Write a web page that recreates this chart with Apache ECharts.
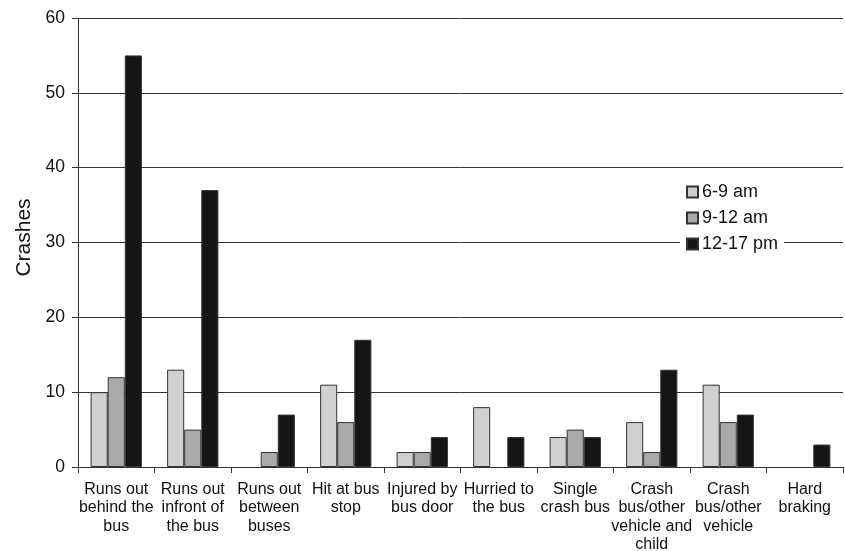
<!DOCTYPE html>
<html><head><meta charset="utf-8">
<script src="https://cdn.jsdelivr.net/npm/echarts@6/dist/echarts.min.js"></script>
<style>html,body{margin:0;padding:0;background:#fff}#c{width:845px;height:551px}</style>
</head><body><div id="c"></div>
<script>
const categories = ["Runs out\nbehind the\nbus","Runs out\ninfront of\nthe bus","Runs out\nbetween\nbuses","Hit at bus\nstop","Injured by\nbus door","Hurried to\nthe bus","Single\ncrash bus","Crash\nbus/other\nvehicle and\nchild","Crash\nbus/other\nvehicle","Hard\nbraking"];
const seriesNames = ["6-9 am","9-12 am","12-17 pm"];
const am69 = [10,13,0,11,2,8,4,6,11,0];
const am912 = [12,5,2,6,2,0,5,2,6,0];
const pm1217 = [55,37,7,17,4,4,4,13,7,3];
const colors = ["#d0d0d0","#a9aaa9","#151515"];
const font = "Liberation Sans, Arial, sans-serif";
const chart = echarts.init(document.getElementById('c'));
const datas = [am69, am912, pm1217];
chart.setOption({
  animation:false,
  textStyle:{fontFamily:font},
  grid:{left:78,right:2,top:18,bottom:84,outerBoundsMode:'none',containLabel:false},
  legend:{orient:'vertical',left:680,top:181,itemWidth:11,itemHeight:11,itemGap:8,icon:'rect',
    backgroundColor:'#fff',padding:[2,6,2,6],
    textStyle:{fontSize:18,color:'#111',fontFamily:font,padding:[0,0,0,-1]},
    data:seriesNames},
  xAxis:{type:'category',data:categories,
    axisLine:{lineStyle:{color:'#333',width:1}},
    axisTick:{show:true,length:6,lineStyle:{color:'#333'}},
    axisLabel:{interval:0,fontSize:16,lineHeight:18.5,color:'#111',margin:13,fontFamily:font}},
  yAxis:{type:'value',min:0,max:60,interval:10,name:'Crashes',nameLocation:'middle',nameGap:41,
    nameTextStyle:{fontSize:21,color:'#111',fontFamily:font,padding:[0,0,0,10]},
    axisLine:{show:true,lineStyle:{color:'#333',width:1}},
    axisTick:{show:true,length:6,lineStyle:{color:'#333'}},
    axisLabel:{fontSize:17.5,color:'#111',margin:13,fontFamily:font},
    splitLine:{lineStyle:{color:'#333',width:1}}},
  series: seriesNames.map((n,i)=>({name:n,type:'bar',
    data:datas[i].map(v=>({value:v,itemStyle:{borderWidth:v===0?0:1}})),
    barGap:'0%',barCategoryGap:'33%',
    itemStyle:{color:colors[i],borderColor:'#333',borderWidth:1}}))
});
</script></body></html>
